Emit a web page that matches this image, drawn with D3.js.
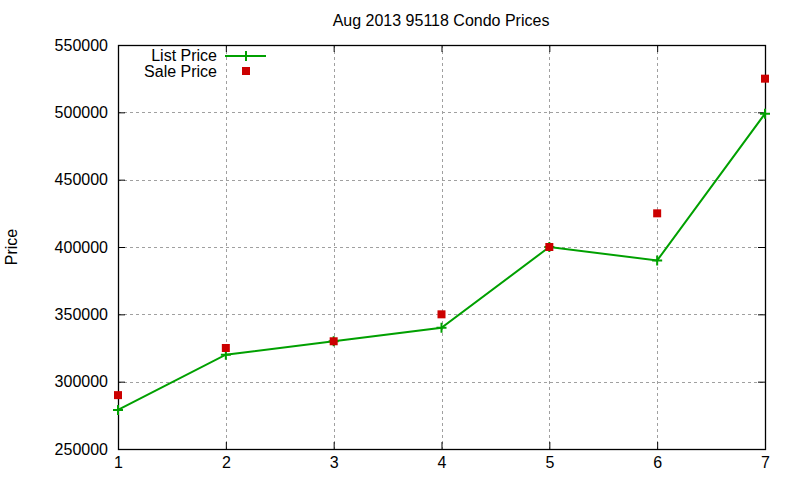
<!doctype html>
<html lang="en">
<head>
<meta charset="utf-8">
<title>Aug 2013 95118 Condo Prices</title>
<style>
html, body { margin: 0; padding: 0; background: #fff; }
svg { display: block; font-family: "Liberation Sans", Arial, sans-serif; }
</style>
</head>
<body>
<svg width="800" height="480"></svg>
<script src="https://d3js.org/d3.v7.min.js"></script>
<script>
var weeks = [1, 2, 3, 4, 5, 6, 7];
var listPrice = [279000, 320000, 330000, 340000, 400000, 390000, 499000];
var salePrice = [290000, 325000, 330000, 350000, 400000, 425000, 525000];
var yTicks = [250000, 300000, 350000, 400000, 450000, 500000, 550000];

var svg = d3.select("svg");
var plotL = 118, plotR = 765, plotT = 45, plotB = 449;

var x = d3.scaleLinear().domain([1, 7]).range([plotL, plotR]);
var y = d3.scaleLinear().domain([250000, 550000]).range([plotB, plotT]);

// grid
var grid = svg.append("g")
  .attr("stroke", "#a0a0a0")
  .attr("stroke-width", 1)
  .attr("stroke-dasharray", "3,3");
grid.selectAll(".gy").data(yTicks.slice(1, -1)).enter().append("line")
  .attr("x1", plotL).attr("x2", plotR)
  .attr("y1", function(d) { return Math.round(y(d)) + 0.5; })
  .attr("y2", function(d) { return Math.round(y(d)) + 0.5; });
grid.selectAll(".gx").data(weeks.slice(1, -1)).enter().append("line")
  .attr("y1", plotT).attr("y2", plotB)
  .attr("x1", function(d) { return Math.round(x(d)) + 0.5; })
  .attr("x2", function(d) { return Math.round(x(d)) + 0.5; });

// axes (gnuplot style, inward ticks mirrored)
var yAxis = d3.axisLeft(y).tickValues(yTicks).tickSizeInner(-7).tickSizeOuter(0).tickPadding(10)
  .tickFormat(d3.format("d"));
var yAxisR = d3.axisRight(y).tickValues(yTicks).tickSizeInner(-7).tickSizeOuter(0).tickFormat("");
var xAxis = d3.axisBottom(x).tickValues(weeks).tickSizeInner(-7).tickSizeOuter(0).tickPadding(8)
  .tickFormat(d3.format("d"));
var xAxisT = d3.axisTop(x).tickValues(weeks).tickSizeInner(-7).tickSizeOuter(0).tickFormat("");

function style(g) {
  g.selectAll("path.domain").remove();
  g.selectAll("line").attr("stroke", "#000");
  g.selectAll("text").attr("fill", "#000").attr("font-size", 16)
    .attr("font-family", "Liberation Sans, Arial, sans-serif");
}
svg.append("g").attr("transform", "translate(" + plotL + ",0)").call(yAxis).call(style);
svg.append("g").attr("transform", "translate(" + plotR + ",0)").call(yAxisR).call(style);
svg.append("g").attr("transform", "translate(0," + plotB + ")").call(xAxis).call(style);
svg.append("g").attr("transform", "translate(0," + plotT + ")").call(xAxisT).call(style);

svg.append("rect")
  .attr("x", plotL + 0.5).attr("y", plotT + 0.5)
  .attr("width", plotR - plotL).attr("height", plotB - plotT)
  .attr("fill", "none").attr("stroke", "#000").attr("stroke-width", 1.3);

// list price line
var line = d3.line()
  .x(function(d, i) { return x(weeks[i]); })
  .y(function(d) { return y(d); });
svg.append("path").datum(listPrice)
  .attr("d", line)
  .attr("fill", "none").attr("stroke", "#00a000").attr("stroke-width", 2);

svg.selectAll(".plus").data(listPrice).enter().append("path")
  .attr("d", function(d, i) {
    var cx = x(weeks[i]), cy = y(d);
    return "M" + (cx - 5) + "," + cy + "H" + (cx + 5) + "M" + cx + "," + (cy - 5) + "V" + (cy + 5);
  })
  .attr("stroke", "#00a000").attr("stroke-width", 2);

// sale price squares
svg.selectAll(".sq").data(salePrice).enter().append("rect")
  .attr("x", function(d, i) { return x(weeks[i]) - 4; })
  .attr("y", function(d) { return y(d) - 4; })
  .attr("width", 8).attr("height", 8)
  .attr("fill", "#cc0000");

// title and label
svg.append("text").attr("x", 441).attr("y", 26)
  .attr("text-anchor", "middle").attr("font-size", 16)
  .text("Aug 2013 95118 Condo Prices");
svg.append("text")
  .attr("transform", "translate(17,247) rotate(-90)")
  .attr("text-anchor", "middle").attr("font-size", 16)
  .text("Price");

// legend
var lg = svg.append("g");
lg.append("text").attr("x", 217).attr("y", 61).attr("text-anchor", "end")
  .attr("font-size", 16).text("List Price");
lg.append("line").attr("x1", 225).attr("x2", 266).attr("y1", 56).attr("y2", 56)
  .attr("stroke", "#00a000").attr("stroke-width", 2);
lg.append("path").attr("d", "M241,56H251M246,51V61")
  .attr("stroke", "#00a000").attr("stroke-width", 2);
lg.append("text").attr("x", 217).attr("y", 77).attr("text-anchor", "end")
  .attr("font-size", 16).text("Sale Price");
lg.append("rect").attr("x", 242).attr("y", 67).attr("width", 8).attr("height", 8)
  .attr("fill", "#cc0000");
</script>
</body>
</html>
